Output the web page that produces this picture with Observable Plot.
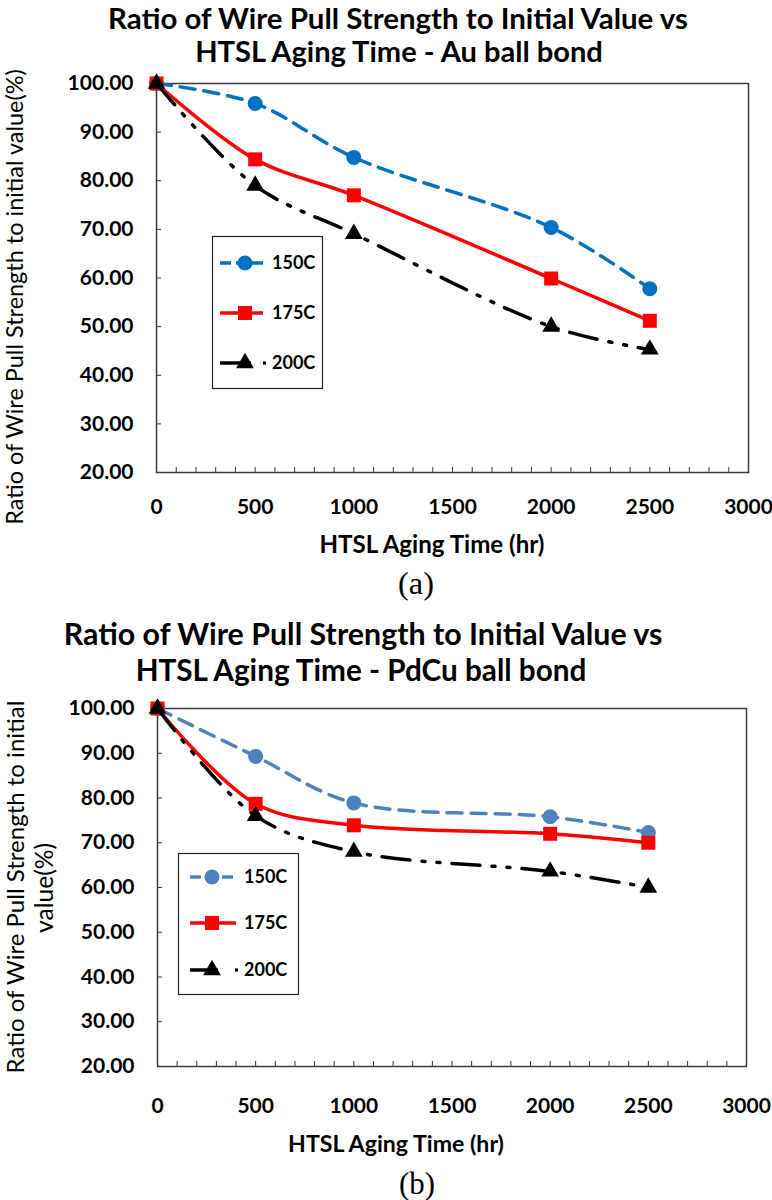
<!DOCTYPE html>
<html>
<head>
<meta charset="utf-8">
<script src="https://cdn.jsdelivr.net/npm/d3@7"></script>
<script src="https://cdn.jsdelivr.net/npm/@observablehq/plot@0.6"></script>
<style>
  html, body { margin: 0; padding: 0; background: #fff; }
  #root { position: relative; width: 772px; height: 1200px; background: #fff; }
  .panel { position: absolute; left: 0; }
</style>
</head>
<body>
<div id="root">
  <div id="plotA" class="panel" style="top:0"></div>
  <div id="plotB" class="panel" style="top:600px"></div>
</div>
<script>
// ---------------- data ----------------
const hours = [0, 500, 1000, 2000, 2500];
const seriesNames = ["150C", "175C", "200C"];
// (a) Au ball bond
const au150 = [100, 95.9, 84.8, 70.4, 57.8];
const au175 = [100, 84.4, 77.0, 59.9, 51.2];
const au200 = [100, 79.0, 69.1, 50.0, 45.3];
// (b) PdCu ball bond
const pdcu150 = [100, 89.3, 78.9, 75.8, 72.3];
const pdcu175 = [100, 78.7, 73.9, 72.0, 70.0];
const pdcu200 = [100, 76.0, 68.0, 63.6, 60.0];
// axes
const yTicks = [20, 30, 40, 50, 60, 70, 80, 90, 100];
const xMinorTicks = d3.range(0, 3001, 100);
const xLabelTicks = [0, 500, 1000, 1500, 2000, 2500, 3000];
const titleLine1 = "Ratio of Wire Pull Strength to Initial Value vs";
const titleA2 = "HTSL Aging Time - Au ball bond";
const titleB2 = "HTSL Aging Time - PdCu ball bond";
const yTitleA = "Ratio of Wire Pull Strength to initial value(%)";
const yTitleB1 = "Ratio of Wire Pull Strength to initial";
const yTitleB2 = "value(%)";
const xTitle = "HTSL Aging Time (hr)";

// ---------------- styles ----------------
const RED = "#FF0000", BLACK = "#000000";
const dash150 = "15,9";
const dash200 = "28,12,3,12,3,12";
const LW = 3.5;
const R_CIRCLE = 7.5, R_SQUARE = 7.9, R_TRI = 6.6;
const SANS = "Lato, 'Open Sans', sans-serif";
const SERIF = "'Liberation Serif', 'Times New Roman', serif";

function rows(vals, s) { return hours.map((h, i) => ({h, v: vals[i], s})); }

function panel(v150, v175, v200, blue, m, labelPad) {
  const d150 = rows(v150, seriesNames[0]);
  const d175 = rows(v175, seriesNames[1]);
  const d200 = rows(v200, seriesNames[2]);
  return Plot.plot({
    width: 772, height: 600,
    marginTop: m.top, marginBottom: m.bottom, marginLeft: m.left, marginRight: m.right,
    x: {domain: [0, 3000], label: null},
    y: {domain: [20, 100], label: null},
    style: {fontFamily: SANS, fontSize: "21px", fontWeight: "bold", color: "#000", background: "transparent", overflow: "visible"},
    marks: [
      Plot.axisY({ticks: yTicks, tickFormat: d => d.toFixed(2), tickSize: -5, tickPadding: 28, label: null, stroke: "#333"}),
      Plot.axisX({ticks: xMinorTicks, tickFormat: d => xLabelTicks.includes(d) ? String(d) : "", tickSize: -5, tickPadding: labelPad, label: null, stroke: "#333"}),
      Plot.frame({stroke: "#3a3a3a", strokeWidth: 1.5}),
      Plot.line(d150, {x: "h", y: "v", stroke: blue, strokeWidth: LW, strokeDasharray: dash150, curve: "catmull-rom"}),
      Plot.dot(d150, {x: "h", y: "v", symbol: "circle", r: R_CIRCLE, fill: blue, stroke: "none"}),
      Plot.line(d175, {x: "h", y: "v", stroke: RED, strokeWidth: LW, curve: "catmull-rom"}),
      Plot.dot(d175, {x: "h", y: "v", symbol: "square", r: R_SQUARE, fill: RED, stroke: "none"}),
      Plot.line(d200, {x: "h", y: "v", stroke: BLACK, strokeWidth: LW, strokeDasharray: dash200, curve: "catmull-rom"}),
      Plot.dot(d200, {x: "h", y: "v", symbol: "triangle", r: R_TRI, fill: BLACK, stroke: "none"})
    ]
  });
}

document.getElementById("plotA").appendChild(
  panel(au150, au175, au200, "#0070C0", {top: 83, bottom: 128, left: 156, right: 24}, 32));
document.getElementById("plotB").appendChild(
  panel(pdcu150, pdcu175, pdcu200, "#4F81BD", {top: 108, bottom: 134, left: 157, right: 26}, 37));

// ---------------- text overlays (SVG) ----------------
const root = document.getElementById("root");
const overlay = d3.select(root).append("svg")
  .attr("width", 772).attr("height", 1200)
  .style("position", "absolute").style("left", "0px").style("top", "0px")
  .style("pointer-events", "none");

function addText(str, o) {
  const t = overlay.append("text")
    .attr("x", o.cx).attr("y", o.cy).attr("dy", "0.36em")
    .attr("text-anchor", "middle")
    .attr("font-family", o.font || SANS)
    .attr("font-weight", o.weight || "bold")
    .attr("font-size", o.size || 20)
    .attr("fill", "#000")
    .text(str);
  const w0 = t.node().getComputedTextLength();
  if (o.w && w0 > 0) t.attr("font-size", (o.size || 20) * o.w / w0);
  if (o.rotate) t.attr("transform", `rotate(-90,${o.cx},${o.cy})`);
  return t;
}
// panel (a)
addText(titleLine1, {cx: 398, cy: 18, w: 580, size: 24});
addText(titleA2, {cx: 399, cy: 52, w: 408, size: 24});
addText(yTitleA, {cx: 15, cy: 297, w: 456, size: 20, weight: "normal", rotate: true});
addText(xTitle, {cx: 432, cy: 544, w: 225, size: 19});
addText("(a)", {cx: 416, cy: 582, w: 36, size: 24, weight: "normal", font: SERIF});
// panel (b)
addText(titleLine1, {cx: 363, cy: 634, w: 599, size: 24});
addText(titleB2, {cx: 361, cy: 670, w: 451, size: 24});
addText(yTitleB1, {cx: 15, cy: 887, w: 373, size: 20, weight: "normal", rotate: true});
addText(yTitleB2, {cx: 44, cy: 888, w: 90, size: 20, weight: "normal", rotate: true});
addText(xTitle, {cx: 396, cy: 1144, w: 216, size: 19});
addText("(b)", {cx: 417, cy: 1183, w: 36, size: 24, weight: "normal", font: SERIF});

// ---------------- legends ----------------
function legend(o, blue) {
  const g = overlay.append("g").attr("transform", `translate(${o.left},${o.top})`);
  g.append("rect").attr("x", 0.5).attr("y", 0.5).attr("width", o.w).attr("height", o.h)
    .attr("fill", "#fff").attr("stroke", "#222").attr("stroke-width", 1.2);
  const specs = [
    {name: seriesNames[0], color: blue, sym: d3.symbolCircle, r: R_CIRCLE},
    {name: seriesNames[1], color: RED, sym: d3.symbolSquare, r: R_SQUARE},
    {name: seriesNames[2], color: BLACK, sym: d3.symbolTriangle, r: R_TRI}
  ];
  specs.forEach((s, i) => {
    const cy = o.rows[i] - o.top;
    const x1 = o.x1 - o.left, x2 = o.x2 - o.left, mx = o.mx - o.left, tx = o.tx - o.left;
    if (i === 0) {
      g.append("line").attr("x1", x1).attr("x2", x2).attr("y1", cy).attr("y2", cy)
        .attr("stroke", s.color).attr("stroke-width", LW).attr("stroke-dasharray", "11,5");
    } else if (i === 1) {
      g.append("line").attr("x1", x1).attr("x2", x2).attr("y1", cy).attr("y2", cy)
        .attr("stroke", s.color).attr("stroke-width", LW);
    } else {
      g.append("line").attr("x1", x1).attr("x2", mx + 6).attr("y1", cy).attr("y2", cy)
        .attr("stroke", s.color).attr("stroke-width", LW);
      g.append("rect").attr("x", tx - 9).attr("y", cy - 1.6).attr("width", 3).attr("height", 3.2).attr("fill", BLACK);
    }
    g.append("path").attr("transform", `translate(${mx},${cy})`)
      .attr("d", d3.symbol(s.sym, Math.PI * s.r * s.r)()).attr("fill", s.color);
    g.append("text").attr("x", tx).attr("y", cy).attr("dy", "0.36em")
      .attr("font-family", SANS).attr("font-weight", "bold")
      .attr("font-size", 18).text(s.name);
  });
}
legend({left: 212, top: 236, w: 110, h: 152, rows: [263, 313, 363], x1: 220, x2: 263, mx: 245, tx: 272}, "#0070C0");
legend({left: 178, top: 853, w: 120, h: 141, rows: [877, 923, 970], x1: 190, x2: 236, mx: 212, tx: 244}, "#4F81BD");
</script>
</body>
</html>
